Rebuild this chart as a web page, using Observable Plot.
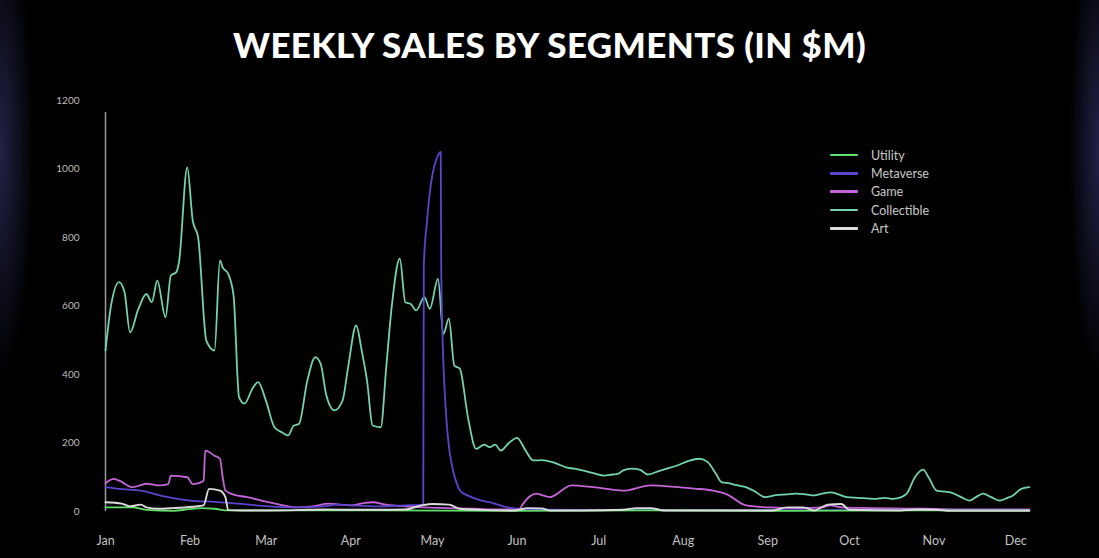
<!DOCTYPE html>
<html>
<head>
<meta charset="utf-8">
<script src="https://cdn.jsdelivr.net/npm/d3@7"></script>
<script src="https://cdn.jsdelivr.net/npm/@observablehq/plot@0.6"></script>
<style>
  html, body { margin: 0; padding: 0; }
  body {
    width: 1099px; height: 558px; overflow: hidden; position: relative;
    background:
      radial-gradient(ellipse 34px 230px at 0px 150px, rgba(45,45,95,0.75), rgba(0,0,0,0) 100%),
      radial-gradient(ellipse 30px 230px at 1099px 150px, rgba(45,45,95,0.75), rgba(0,0,0,0) 100%),
      #000;
    font-family: Lato, "Open Sans", sans-serif;
  }
  #title {
    height: 90px; line-height: 88px; text-align: center; color: #fff;
    font-family: Lato, sans-serif; font-weight: 900; font-size: 35px; letter-spacing: 0.4px;
  }
  #legend { position: absolute; left: 830px; top: 146px; }
  .row { height: 18.3px; display: flex; align-items: center; }
  .sw { width: 28px; height: 2.5px; margin-right: 13px; border-radius: 1px; }
  .lab { color: #c9c9c9; font-size: 12.5px; font-family: Lato, sans-serif; }
</style>
</head>
<body>
<div id="title">WEEKLY SALES BY SEGMENTS (IN $M)</div>
<div id="chart"></div>
<div id="legend"></div>
<script>
// Values in $M; first element = days since Jan 1, 2022
const segments = ["Utility", "Metaverse", "Game", "Collectible", "Art"];
const colors = ["#5fe06a", "#5c44cc", "#c566d8", "#72d3ae", "#dcdcdc"];
const monthTicks = ["2022-01-01","2022-02-01","2022-03-01","2022-04-01","2022-05-01","2022-06-01","2022-07-01","2022-08-01","2022-09-01","2022-10-01","2022-11-01","2022-12-01"];
const yTicks = [0, 200, 400, 600, 800, 1000, 1200];

const collectible = [[0,470],[2,600],[5,670],[7,640],[9,523],[12,590],[15,635],[17,611],[19,674],[22,567],[24,689],[26,699],[27,730],[30,1005],[32,850],[34,800],[37,499],[40,470],[42,733],[43,713],[45,694],[47,630],[49,334],[51,315],[54,360],[56,378],[59,320],[62,246],[65,230],[67,222],[69,250],[71,256],[74,380],[77,451],[79,430],[81,340],[84,295],[87,324],[89,420],[92,543],[94,470],[96,380],[98,251],[101,246],[103,420],[105,596],[108,738],[110,611],[112,606],[114,587],[117,626],[119,592],[122,679],[124,519],[126,563],[128,426],[130,417],[133,275],[136,183],[139,195],[141,188],[143,195],[145,178],[148,200],[151,215],[154,180],[157,149],[160,150],[164,144],[167,135],[169,129],[172,125],[175,120],[179,112],[183,105],[186,108],[188,110],[190,120],[193,125],[196,122],[199,108],[203,118],[206,125],[210,135],[214,148],[218,154],[221,144],[224,110],[226,86],[229,82],[232,76],[235,71],[238,60],[242,42],[246,48],[250,50],[253,52],[257,50],[260,47],[263,52],[266,56],[269,50],[272,42],[276,40],[282,37],[286,40],[289,37],[292,42],[294,52],[297,100],[300,122],[302,100],[305,61],[308,58],[310,56],[314,42],[317,32],[320,45],[322,52],[325,42],[328,32],[331,40],[333,47],[336,66],[339,71]];
const metaverse = [[0,71],[5,66],[13,61],[21,45],[31,32],[40,28],[50,22],[60,15],[70,12],[80,15],[85,20],[90,18],[100,15],[110,18],[116.6,20],[116.8,720],[118,850],[119,930],[120,985],[121,1018],[122,1040],[123,1050],[123.2,700],[124,432],[125,280],[126,190],[127,140],[128,105],[129,80],[130,62],[132,50],[135,40],[138,32],[142,25],[146,15],[150,9],[155,6],[170,5],[200,4],[250,4],[300,4],[339,4]];
const game = [[0,82],[3,95],[5,90],[10,71],[15,81],[20,76],[23,80],[24,105],[30,100],[32,80],[35,85],[36,90],[36.6,178],[40,163],[42,154],[43,100],[44,61],[48,47],[52,42],[58,30],[64,20],[70,12],[76,15],[82,23],[86,20],[90,18],[95,25],[98,27],[103,20],[110,15],[117,12],[125,10],[135,8],[145,6],[152,8],[153,20],[158,52],[163,42],[171,76],[179,71],[190,61],[200,76],[210,71],[216,67],[223,61],[228,50],[235,18],[243,12],[255,10],[263,12],[266,18],[270,12],[280,10],[300,8],[320,6],[339,6]];
const art = [[0,27],[6,23],[9,15],[13,20],[15,12],[19,8],[25,10],[32,14],[36,18],[38,66],[42,61],[44,42],[45,4],[50,3],[60,3],[70,4],[80,6],[90,5],[100,5],[110,6],[116,18],[120,22],[126,20],[130,8],[140,4],[150,3],[155,10],[160,9],[163,3],[175,3],[190,5],[195,10],[200,10],[205,3],[230,3],[245,3],[250,12],[256,12],[260,3],[265,20],[270,22],[273,5],[290,3],[298,6],[305,5],[310,2],[339,2]];
const utility = [[0,12],[10,12],[15,5],[25,2],[30,6],[35,10],[40,8],[45,3],[55,3],[100,3],[150,2],[200,3],[250,2],[300,3],[339,3]];

const start = new Date("2022-01-01T00:00:00Z");
const toDate = d => new Date(start.getTime() + d * 864e5);
const seriesData = {Utility: utility, Metaverse: metaverse, Game: game, Collectible: collectible, Art: art};
const rows = [];
for (const s of segments) for (const [d, v] of seriesData[s]) rows.push({segment: s, date: toDate(d), value: v});

const drawOrder = ["Collectible", "Game", "Metaverse", "Utility", "Art"];
const colorOf = Object.fromEntries(segments.map((s, i) => [s, colors[i]]));

const plot = Plot.plot({
  width: 1099, height: 468,
  marginLeft: 105, marginRight: 2, marginTop: 10, marginBottom: 47,
  style: {background: "transparent", color: "#b8b8b8", fontFamily: "Lato, sans-serif"},
  x: {type: "utc", domain: [new Date("2022-01-01"), new Date("2022-12-31")]},
  y: {domain: [0, 1200]},
  marks: [
    Plot.axisY({ticks: yTicks, tickFormat: d => String(d), tickSize: 0, tickPadding: 26, fontSize: 10, fill: "#bdbdbd", label: null}),
    Plot.axisX({ticks: monthTicks.map(d => new Date(d)), tickFormat: d3.utcFormat("%b"), tickSize: 0, tickPadding: 25, fontSize: 12.5, fill: "#c2c2c2", label: null}),
    Plot.ruleX([start], {y1: 0, y2: 1165, stroke: "#9a9a9a", strokeWidth: 1.5}),
    ...drawOrder.map(s => Plot.line(rows.filter(r => r.segment === s), {
      x: "date", y: "value", stroke: colorOf[s], strokeWidth: s === "Art" ? 1.9 : 1.8, curve: "monotone-x"
    }))
  ]
});
document.getElementById("chart").appendChild(plot);

const legend = document.getElementById("legend");
segments.forEach((s, i) => {
  const row = document.createElement("div");
  row.className = "row";
  row.innerHTML = `<div class="sw" style="background:${colors[i]}"></div><div class="lab">${s}</div>`;
  legend.appendChild(row);
});
</script>
</body>
</html>
